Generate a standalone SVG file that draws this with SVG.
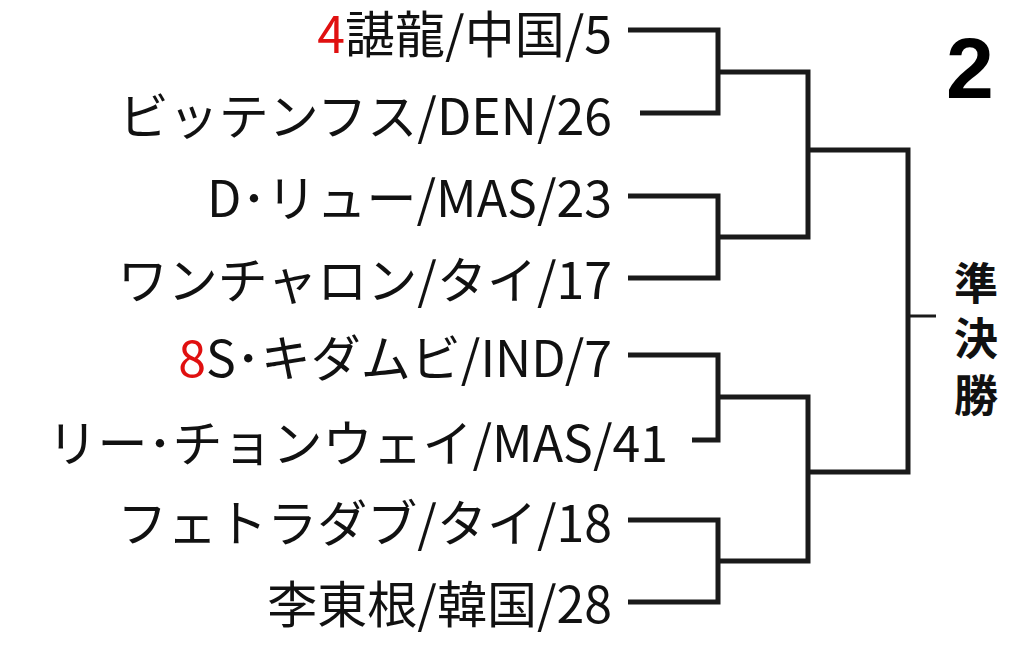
<svg xmlns="http://www.w3.org/2000/svg" width="1024" height="645" viewBox="0 0 1024 645">
<style>
.t{font-family:"Noto Sans CJK JP","Liberation Sans",sans-serif;font-size:50px;fill:#111;text-anchor:end}
.r{fill:#e01010}
.c{fill:none;stroke:#1a1a1a;stroke-width:5}
.v{font-family:"Noto Sans CJK JP",sans-serif;font-size:44px;font-weight:bold;fill:#111;text-anchor:middle}
</style>
<rect width="1024" height="645" fill="#fff"/>
<g id="p1"><text class="t" x="612" y="53"><tspan class="r">4</tspan>諶龍/中国/5</text></g>
<g id="p2"><text class="t" x="612" y="135">ビッテンフス/DEN/26</text></g>
<g id="p3"><text class="t" x="612" y="217">D･リュー/MAS/23</text></g>
<g id="p4"><text class="t" x="612" y="299">ワンチャロン/タイ/17</text></g>
<g id="p5"><text class="t" x="612" y="377"><tspan class="r">8</tspan>S･キダムビ/IND/7</text></g>
<g id="p6"><text class="t" x="668" y="462">リー･チョンウェイ/MAS/41</text></g>
<g id="p7"><text class="t" x="612" y="542">フェトラダブ/タイ/18</text></g>
<g id="p8"><text class="t" x="612" y="623">李東根/韓国/28</text></g>
<g id="num"><text x="970" y="98" font-family="Liberation Sans,sans-serif" font-size="86" font-weight="bold" text-anchor="middle" fill="#000">2</text></g>
<g id="label"><text class="v" x="976" y="300">準</text><text class="v" x="976" y="355">決</text><text class="v" x="976" y="412">勝</text></g>
<g id="connectors" class="c">
<path d="M628 30H718V113H640"/>
<path d="M628 196H718V278H628"/>
<path d="M628 355H718V440H692"/>
<path d="M628 520H718V602H628"/>
<path d="M718 72H808V237H718"/>
<path d="M718 397H808V561H718"/>
<path d="M808 150H908V472H808"/>
<path d="M908 316H936" stroke-width="3"/>
</g>
</svg>
